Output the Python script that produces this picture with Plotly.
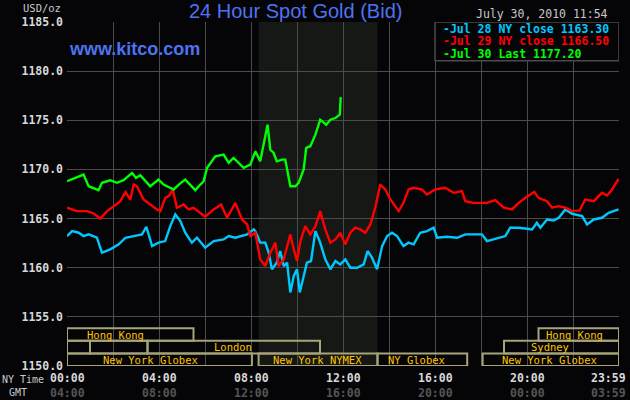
import plotly.graph_objects as go

# hours since NY midnight, price in USD/oz
jul28_h = [0, 0.22, 0.51, 0.72, 0.94, 1.3, 1.52, 1.88, 2.25, 2.54, 2.9, 3.26, 3.45, 3.7, 3.98,
           4.27, 4.49, 4.71, 4.93, 5.14, 5.43, 5.65, 6.01, 6.38, 6.81, 7.03, 7.32, 7.83, 8.12,
           8.19, 8.4, 8.62, 8.77, 8.91, 9.12, 9.27, 9.42, 9.57, 9.71, 9.86, 10.0, 10.12, 10.26,
           10.43, 10.61, 10.8, 11.01, 11.23, 11.45, 11.67, 11.88, 12.1, 12.32, 12.61, 12.9,
           13.07, 13.26, 13.48, 13.7, 13.92, 14.13, 14.35, 14.63, 14.85, 15.07, 15.36, 15.65,
           15.94, 16.09, 16.52, 16.96, 17.32, 17.68, 18.04, 18.26, 18.55, 18.84, 19.06, 19.27,
           19.64, 20.0, 20.22, 20.43, 20.58, 20.87, 21.16, 21.38, 21.67, 21.96, 22.4, 22.61,
           22.9, 23.26, 23.55, 23.98]
jul28_v = [1163.22, 1163.73, 1163.56, 1163.22, 1163.39, 1163.05, 1161.53, 1161.87, 1162.38,
           1163.05, 1163.22, 1163.39, 1164.17, 1162.2, 1162.55, 1162.71, 1164.23, 1165.42,
           1164.74, 1163.56, 1162.55, 1163.05, 1162.04, 1162.71, 1162.88, 1163.22, 1163.05,
           1163.39, 1163.9, 1163.73, 1162.55, 1162.55, 1161.53, 1159.84, 1160.51, 1161.7,
           1160.17, 1160.51, 1157.48, 1159.17, 1159.84, 1157.48, 1158.83, 1160.51, 1160.68,
           1163.73, 1162.55, 1160.85, 1159.84, 1160.68, 1160.34, 1160.85, 1160.0, 1160.0,
           1160.34, 1161.7, 1161.02, 1159.84, 1162.2, 1163.22, 1163.56, 1163.22, 1162.2,
           1162.55, 1162.38, 1163.56, 1163.73, 1164.07, 1163.05, 1163.15, 1163.05, 1163.39,
           1163.39, 1163.39, 1162.71, 1162.88, 1163.05, 1163.22, 1164.07, 1164.07, 1163.96,
           1163.9, 1164.57, 1164.07, 1164.91, 1164.81, 1165.08, 1165.93, 1165.49, 1165.25,
           1164.4, 1164.91, 1165.08, 1165.59, 1165.93]

jul29_h = [0, 0.43, 0.87, 1.16, 1.45, 1.74, 2.03, 2.32, 2.54, 2.75, 2.9, 3.04, 3.33, 3.62,
           3.91, 4.06, 4.27, 4.43, 4.6, 4.78, 5.07, 5.29, 5.5, 6.01, 6.38, 6.7, 6.96, 7.32,
           7.61, 7.83, 7.97, 8.19, 8.4, 8.62, 8.84, 9.06, 9.2, 9.42, 9.57, 9.71, 9.86, 10.0,
           10.15, 10.36, 10.58, 10.8, 11.01, 11.23, 11.45, 11.67, 11.88, 12.1, 12.32, 12.53,
           12.75, 12.97, 13.19, 13.4, 13.62, 13.84, 14.06, 14.42, 14.63, 14.85, 15.07, 15.43,
           15.65, 16.01, 16.45, 16.81, 17.17, 17.32, 17.68, 18.26, 18.62, 18.99, 19.35, 19.64,
           19.93, 20.32, 20.5, 20.87, 21.09, 21.38, 21.67, 21.96, 22.29, 22.53, 22.9, 23.26,
           23.48, 23.7, 23.98]
jul29_v = [1166.1, 1165.76, 1165.76, 1165.52, 1165.0, 1165.76, 1166.26, 1166.77, 1167.69,
           1166.94, 1168.46, 1168.29, 1166.94, 1166.43, 1165.93, 1165.76, 1167.11, 1167.28,
           1167.96, 1166.1, 1166.43, 1165.93, 1166.1, 1165.19, 1165.93, 1166.43, 1165.08,
           1166.6, 1164.91, 1164.4, 1163.22, 1163.56, 1160.85, 1160.17, 1161.53, 1162.55,
           1160.17, 1160.85, 1162.2, 1163.39, 1161.87, 1160.68, 1162.71, 1164.23, 1163.39,
           1164.23, 1165.76, 1163.9, 1162.55, 1162.88, 1163.56, 1162.38, 1163.56, 1164.07,
           1163.9, 1163.56, 1164.4, 1166.1, 1168.46, 1167.96, 1166.94, 1165.76, 1166.6,
           1167.96, 1168.13, 1167.96, 1167.45, 1167.96, 1168.13, 1167.62, 1167.79, 1166.77,
           1166.6, 1166.6, 1166.87, 1166.1, 1165.93, 1166.6, 1167.11, 1167.72, 1167.11,
           1166.77, 1166.1, 1166.26, 1166.1, 1165.76, 1165.83, 1166.94, 1166.77, 1167.62,
           1167.35, 1167.96, 1169.04]

jul30_h = [0, 0.72, 0.94, 1.37, 1.52, 1.88, 2.17, 2.46, 2.83, 3.0, 3.19, 3.62, 3.98, 4.2,
           4.64, 4.86, 5.14, 5.36, 5.58, 5.8, 5.94, 6.09, 6.45, 6.81, 7.03, 7.24, 7.68, 7.97,
           8.19, 8.4, 8.55, 8.72, 8.84, 8.98, 9.12, 9.35, 9.49, 9.58, 9.71, 9.93, 10.07,
           10.29, 10.4, 10.58, 10.8, 11.01, 11.27, 11.45, 11.67, 11.86, 11.9]
jul30_v = [1168.8, 1169.48, 1168.29, 1167.89, 1168.64, 1168.9, 1168.64, 1168.9, 1169.65,
           1169.14, 1169.4, 1168.29, 1168.97, 1168.46, 1167.96, 1168.46, 1168.97, 1168.46,
           1167.89, 1168.46, 1168.8, 1170.16, 1171.34, 1171.51, 1170.67, 1171.17, 1170.16,
           1170.49, 1171.84, 1170.83, 1172.69, 1174.55, 1172.0, 1171.7, 1170.83, 1171.0,
           1171.0, 1169.99, 1168.29, 1168.29, 1168.63, 1169.99, 1172.19, 1172.36, 1173.54,
           1175.06, 1174.55, 1175.06, 1175.23, 1175.57, 1177.36]

series_names = ['-Jul 28 NY close 1163.30', '-Jul 29 NY close 1166.50', '-Jul 30 Last 1177.20']
series_colors = ['#00c8ff', '#ff0000', '#00ff00']

# trading sessions: name, row (0 = bottom), start, end (NY hours)
session_names = ['New York Globex', 'New York NYMEX', 'NY Globex', 'New York Globex',
                 '', '', 'London', 'Sydney', 'Hong Kong', 'Hong Kong']
session_rows = [0, 0, 0, 0, 1, 1, 1, 1, 2, 2]
session_start = [0, 8.33, 13.5, 18.07, 0, 1, 3.5, 19, 0, 20.5]
session_end = [8.04, 13.5, 17.4, 24, 1, 3.5, 11, 24, 5.5, 24]
session_label_at = [3.64, 10.9, 15.2, 20.98, 0, 0, 7.2, 20.98, 2.1, 22.07]

nymex_open = 8.33
nymex_close = 13.5

tick_hours = [0, 4, 8, 12, 16, 20, 24]
ny_labels = ['00:00', '04:00', '08:00', '12:00', '16:00', '20:00', '23:59']
gmt_labels = ['04:00', '08:00', '12:00', '16:00', '20:00', '00:00', '03:59']

mono = 'DejaVu Sans Mono'
bg = '#050508'

fig = go.Figure()
for h, v, name, color in zip([jul28_h, jul29_h, jul30_h], [jul28_v, jul29_v, jul30_v],
                             series_names, series_colors):
    fig.add_trace(go.Scatter(x=h, y=v, mode='lines', name=name,
                             line=dict(color=color, width=2.4), showlegend=False))

# NYMEX floor hours shading
fig.add_shape(type='rect', xref='x', yref='paper', x0=nymex_open, x1=nymex_close, y0=0, y1=1,
              fillcolor='#151815', line_width=0, layer='below')

row_h = 1.28
for name, row, s, e, at in zip(session_names, session_rows, session_start, session_end,
                               session_label_at):
    y0 = 1150 + row * row_h
    fig.add_shape(type='rect', x0=s, x1=e, y0=y0, y1=y0 + row_h,
                  line=dict(color='#a8a478', width=2), layer='above')
    if name:
        fig.add_annotation(x=at, y=y0 + row_h / 2, text=name, showarrow=False,
                           font=dict(family=mono, size=10.5, color='#ffc400'))

# legend box
fig.add_shape(type='rect', x0=16, x1=24, y0=1181.05, y1=1185, fillcolor=bg,
              line=dict(color='#4b4b4b', width=1.5), layer='above')
for i, (name, color) in enumerate(zip(series_names, series_colors)):
    fig.add_annotation(x=16.25, y=1184.29 - i * 1.25, text=name, showarrow=False,
                       xanchor='left', font=dict(family=mono, size=11.5, color=color, weight='bold'))

for h, ny, gmt in zip(tick_hours, ny_labels, gmt_labels):
    shift = -11 if h == 24 else 0
    fig.add_annotation(x=h, y=0, yref='paper', text=ny, showarrow=False, xshift=shift,
                       yanchor='middle', yshift=-12,
                       font=dict(family=mono, size=11.5, color='#d8d8d8', weight='bold'))
    fig.add_annotation(x=h, y=0, yref='paper', text=gmt, showarrow=False, xshift=shift,
                       yanchor='middle', yshift=-27,
                       font=dict(family=mono, size=11.5, color='#555555', weight='bold'))

fig.add_annotation(x=0, y=0, xref='paper', yref='paper', text='NY Time', showarrow=False,
                   xanchor='right', yanchor='middle', xshift=-21, yshift=-13,
                   font=dict(family=mono, size=10, color='#c8c8c8'))
fig.add_annotation(x=0, y=0, xref='paper', yref='paper', text='GMT', showarrow=False,
                   xanchor='right', yanchor='middle', xshift=-38, yshift=-26,
                   font=dict(family=mono, size=10, color='#c8c8c8'))
fig.add_annotation(x=0, y=1, xref='paper', yref='paper', text='USD/oz', showarrow=False,
                   xanchor='right', yanchor='middle', xshift=-4, yshift=14,
                   font=dict(family=mono, size=10.5, color='#c8c8c8'))
fig.add_annotation(x=24, y=1, yref='paper', text='July 30, 2010 11:54', showarrow=False,
                   xanchor='right', yanchor='middle', xshift=-9, yshift=8,
                   font=dict(family=mono, size=11.5, color='#c8c8c8'))
fig.add_annotation(x=9.93, y=1, yref='paper', text='24 Hour Spot Gold (Bid)', showarrow=False,
                   yanchor='middle', yshift=11,
                   font=dict(family='Liberation Sans', size=20, color='#4f73f0'))
fig.add_annotation(x=0, y=1182.26, text='www.kitco.com', showarrow=False, xanchor='left',
                   xshift=0, font=dict(family='Liberation Sans', size=18, color='#4f73f0', weight='bold'))

fig.update_layout(
    width=630, height=400,
    margin=dict(l=67, r=11, t=22, b=34, autoexpand=False),
    paper_bgcolor=bg, plot_bgcolor=bg,
    xaxis=dict(range=[0, 24], dtick=2, showticklabels=False, showgrid=True, automargin=False,
               gridcolor='#4b4b4b', gridwidth=1, zeroline=False, showline=False),
    yaxis=dict(range=[1150, 1185], dtick=5, tickformat='.1f', showgrid=True, automargin=False,
               gridcolor='#4b4b4b', gridwidth=1, zeroline=False, showline=False,
               ticks='', ticklabelstandoff=3,
               tickfont=dict(family=mono, size=11.5, color='#d8d8d8', weight='bold')),
)

# page body has a default 8px margin; drop it so the figure fills the window
fig.write_html('out.html', config={'displayModeBar': False},
               post_script="document.body.style.margin='0';"
                           "document.body.style.background='#050508';")
